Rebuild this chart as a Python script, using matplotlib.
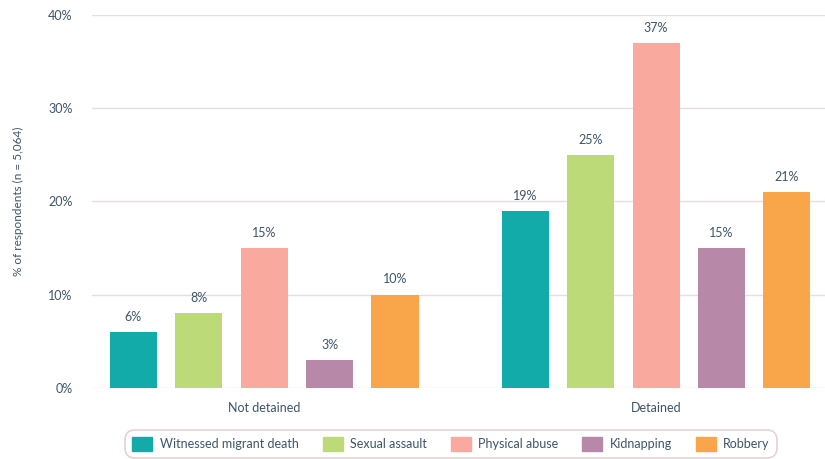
import numpy as np
import matplotlib.pyplot as plt
from matplotlib.patches import Patch

groups = ["Not detained", "Detained"]
series = ["Witnessed migrant death", "Sexual assault", "Physical abuse", "Kidnapping", "Robbery"]
values = {
    "Witnessed migrant death": [6, 19],
    "Sexual assault": [8, 25],
    "Physical abuse": [15, 37],
    "Kidnapping": [3, 15],
    "Robbery": [10, 21],
}
colors = ["#12abaa", "#bdda78", "#f9a99e", "#b888a8", "#f9a54a"]
yticks = [0, 10, 20, 30, 40]

TXT = "#3d5468"
plt.rcParams['font.family'] = ['Lato', 'DejaVu Sans']

fig = plt.figure(figsize=(8.25, 4.59), dpi=100)
ax = fig.add_axes([92/825, 1-388/459, 1-92/825, (388-15)/459])

x = np.arange(len(groups))
step = 0.167
width = 0.12
for i, name in enumerate(series):
    xs = x + (i-2)*step
    ax.bar(xs, values[name], width=width, color=colors[i], zorder=3, label=name)
    for xi, v in zip(xs, values[name]):
        ax.text(xi, v+1.0, "%d%%" % v, ha='center', va='bottom', fontsize=9, color=TXT)

ax.set_xlim(-0.439, 1.431)
ax.set_ylim(0, 40)
ax.set_yticks(yticks)
ax.set_yticklabels(["%d%%" % t for t in yticks], fontsize=9, color=TXT)
ax.set_xticks(x)
ax.set_xticklabels(groups, fontsize=9, color=TXT)
ax.tick_params(axis='both', length=0, pad=14)
ax.tick_params(axis='x', pad=10)
ax.grid(axis='y', color='#e8dcdc', lw=1, zorder=0)
for s in ax.spines.values():
    s.set_visible(False)
ax.set_ylabel("% of respondents (n = 5,064)", fontsize=8.5, color=TXT, labelpad=17)

handles = [Patch(color=c, label=n) for n, c in zip(series, colors)]
leg = fig.legend(handles=handles, loc='center', bbox_to_anchor=(451/825, 1-444/459), ncol=5,
                 frameon=True, fontsize=9, handlelength=1.6, handleheight=1.3, columnspacing=1.9,
                 handletextpad=0.6, borderpad=0.6, fancybox=True)
for t in leg.get_texts():
    t.set_color(TXT)
fr = leg.get_frame()
fr.set_edgecolor('#dcc8cc')
fr.set_linewidth(1.2)
fr.set_boxstyle('round,pad=0,rounding_size=0.8')

fig.savefig("out.png", dpi=100)
